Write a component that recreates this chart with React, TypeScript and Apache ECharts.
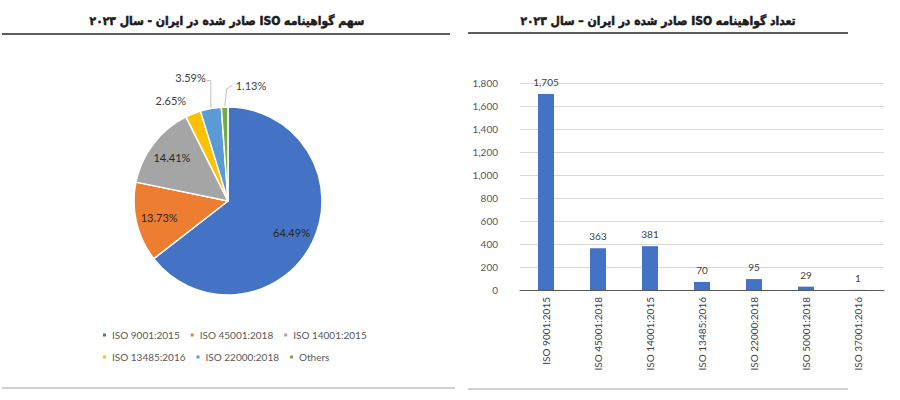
import React, { useEffect, useRef } from "react";
import * as echarts from "echarts";

const pieTitle = "سهم گواهینامه ISO صادر شده در ایران - سال ۲۰۲۳";
const barTitle = "تعداد گواهینامه ISO صادر شده در ایران – سال ۲۰۲۳";

const pieNames = ["ISO 9001:2015", "ISO 45001:2018", "ISO 14001:2015", "ISO 13485:2016", "ISO 22000:2018", "Others"];
const pieValues = [64.49, 13.73, 14.41, 2.65, 3.59, 1.13];
const pieColors = ["#4472C4", "#ED7D31", "#A5A5A5", "#FFC000", "#5B9BD5", "#70AD47"];

const barCategories = ["ISO 9001:2015", "ISO 45001:2018", "ISO 14001:2015", "ISO 13485:2016", "ISO 22000:2018", "ISO 50001:2018", "ISO 37001:2016"];
const barValues = [1705, 363, 381, 70, 95, 29, 1];
const yTicks = { min: 0, max: 1800, interval: 200 };

const CX = 228;
const CY = 201;
const R = 94;
const FONT = "Lato, 'Open Sans', sans-serif";
const TITLE_FONT = "bold 12px 'DejaVu Sans Condensed', 'DejaVu Sans'";
const RTL = (s: string) => "\u202B" + s + "\u202C";

function midPoint(i: number) {
  const total = pieValues.reduce((a, b) => a + b, 0);
  let cum = 0;
  for (let k = 0; k < i; k++) cum += pieValues[k];
  const frac = (cum + pieValues[i] / 2) / total;
  const a = frac * Math.PI * 2;
  return [CX + R * Math.sin(a), CY - R * Math.cos(a)];
}

export default function App() {
  const ref = useRef<HTMLDivElement>(null);
  useEffect(() => {
    if (!ref.current) return;
    const chart = echarts.init(ref.current, undefined, { renderer: "svg" });
    const pieData = pieNames.map((n, i) => ({
      name: n,
      value: pieValues[i],
      itemStyle: { color: pieColors[i] },
      label: { show: i >= 3 },
      labelLine: { show: i >= 4 },
    }));
    const overlayData = pieNames.map((n, i) => ({
      name: n,
      value: pieValues[i],
      label: { show: i < 3 },
    }));
    const legendBase = {
      left: 96,
      icon: "rect",
      itemWidth: 5,
      itemHeight: 5,
      itemGap: 9,
      selectedMode: false,
      textStyle: { fontFamily: FONT, fontSize: 10, color: "#595959" },
    };
    chart.setOption({
      animation: false,
      graphic: [
        {
          type: "text",
          x: 227,
          y: 21,
          style: { text: RTL(pieTitle), textAlign: "center", textVerticalAlign: "middle", font: TITLE_FONT, fill: "#1a1a1a", stroke: "#1a1a1a", lineWidth: 0.5 },
        },
        {
          type: "text",
          x: 658,
          y: 21,
          style: { text: RTL(barTitle), textAlign: "center", textVerticalAlign: "middle", font: TITLE_FONT, fill: "#1a1a1a", stroke: "#1a1a1a", lineWidth: 0.5 },
        },
        { type: "line", shape: { x1: 2, y1: 34, x2: 450, y2: 34 }, style: { stroke: "#262626", lineWidth: 1.5 } },
        { type: "line", shape: { x1: 468, y1: 33, x2: 848, y2: 33 }, style: { stroke: "#262626", lineWidth: 1.5 } },
        { type: "line", shape: { x1: 2, y1: 388, x2: 455, y2: 388 }, style: { stroke: "#D0D0D0", lineWidth: 2 } },
        { type: "line", shape: { x1: 468, y1: 389, x2: 848, y2: 389 }, style: { stroke: "#D0D0D0", lineWidth: 2 } },
      ],
      legend: [
        {
          ...legendBase,
          top: 325,
          data: pieNames.slice(0, 3).map((n, i) => ({ name: n, itemStyle: { color: pieColors[i] } })),
        },
        {
          ...legendBase,
          top: 347,
          data: pieNames.slice(3).map((n, i) => ({ name: n, itemStyle: { color: pieColors[i + 3] } })),
        },
      ],
      grid: { left: 520, right: 16, top: 83, bottom: 110 },
      xAxis: {
        type: "category",
        data: barCategories,
        axisTick: { show: false },
        axisLine: { lineStyle: { color: "#595959", width: 1 } },
        axisLabel: { rotate: 90, margin: 7, fontFamily: FONT, fontSize: 10, color: "#404040" },
      },
      yAxis: {
        type: "value",
        min: yTicks.min,
        max: yTicks.max,
        interval: yTicks.interval,
        axisLine: { show: false },
        axisTick: { show: false },
        splitLine: { lineStyle: { color: "#D9D9D9" } },
        axisLabel: {
          margin: 22,
          fontFamily: FONT,
          fontSize: 10,
          color: "#595959",
          formatter: (v: number) => v.toLocaleString("en-US"),
        },
      },
      series: [
        {
          type: "bar",
          data: barValues,
          barWidth: 16,
          itemStyle: { color: "#4472C4" },
          label: {
            show: true,
            position: "top",
            distance: 7,
            fontFamily: FONT,
            fontSize: 10,
            color: "#404040",
            formatter: (p: any) => p.value.toLocaleString("en-US"),
          },
        },
        {
          type: "pie",
          center: [CX, CY],
          radius: [0, R],
          startAngle: 90,
          clockwise: true,
          avoidLabelOverlap: false,
          data: pieData,
          itemStyle: { borderColor: "#fff", borderWidth: 1.5 },
          label: {
            position: "outside",
            formatter: "{c}%",
            fontFamily: FONT,
            fontSize: 11,
            color: "#404040",
          },
          labelLine: { lineStyle: { color: "#BFBFBF", width: 1 } },
          labelLayout: (params: any) => {
            const i = params.dataIndex;
            if (i < 3) return {};
            const [px, py] = midPoint(i);
            if (i === 3) {
              return { x: px - 7, y: py - 13, align: "right", verticalAlign: "middle" };
            }
            if (i === 4) {
              return {
                x: px - 5,
                y: py - 31,
                align: "right",
                verticalAlign: "middle",
                labelLinePoints: [[px, py], [px, py - 28], [px - 4, py - 28]],
              };
            }
            return {
              x: px + 11,
              y: py - 22,
              align: "left",
              verticalAlign: "middle",
              labelLinePoints: [[px, py], [px + 2, py - 18], [px + 8, py - 22]],
            };
          },
          emphasis: { disabled: true },
        },
        {
          type: "pie",
          center: [CX, CY],
          radius: [0, R * 1.44],
          startAngle: 90,
          clockwise: true,
          silent: true,
          data: overlayData,
          itemStyle: { color: "transparent", borderWidth: 0 },
          label: {
            position: "inside",
            formatter: "{c}%",
            fontFamily: FONT,
            fontSize: 11,
            color: "#262626",
          },
          labelLine: { show: false },
          emphasis: { disabled: true },
        },
      ],
    });
    return () => chart.dispose();
  }, []);
  return <div ref={ref} style={{ width: 900, height: 400, position: "absolute", left: 0, top: 0 }} />;
}
